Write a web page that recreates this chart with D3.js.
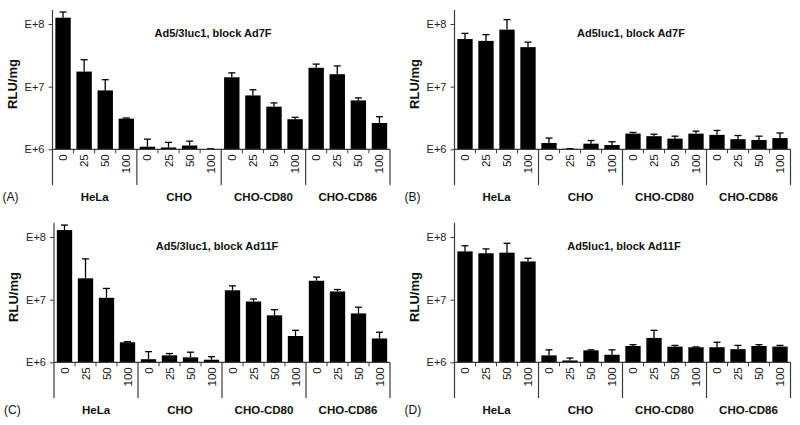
<!DOCTYPE html>
<html>
  <head>
      <meta charset="utf-8">
      <title>RLU/mg blocking</title>
      <script type="text/javascript" src="https://d3js.org/d3.v7.min.js"></script>
      <style>
        body { margin: 0; background: #fff; }
        text { font-family: "Liberation Sans", Arial, sans-serif; fill: #111; }
      </style>
  </head>
  <body>
<script type="text/javascript">
var w = 800;
var h = 425;

var cells = ["HeLa", "CHO", "CHO-CD80", "CHO-CD86"];
var doses = ["0", "25", "50", "100"];
var yTicks = [1e6, 1e7, 1e8];

// mean RLU/mg, 16 bars per panel (cells x doses)
var meanA = [1.26e8, 1.74e7, 8.71e6, 3.09e6,  1.10e6, 1.07e6, 1.15e6, 1.01e6,
             1.41e7, 7.24e6, 4.79e6, 3.02e6,  2.00e7, 1.58e7, 6.03e6, 2.63e6];
var sdA   = [2.9e7, 9.5e6, 4.2e6, 7e4,  3.5e5, 2.2e5, 2.0e5, 1e4,
             2.5e6, 1.67e6, 7.1e5, 2.2e5,  2.9e6, 5.6e6, 5.8e5, 6.8e5];

var meanB = [5.75e7, 5.37e7, 8.13e7, 4.27e7,  1.26e6, 1.02e6, 1.23e6, 1.17e6,
             1.78e6, 1.62e6, 1.48e6, 1.78e6,  1.70e6, 1.45e6, 1.41e6, 1.51e6];
var sdB   = [1.33e7, 1.39e7, 3.62e7, 8.6e6,  2.5e5, 5e3, 1.5e5, 1.5e5,
             8e4, 1.2e5, 1.4e5, 1.7e5,  3.0e5, 2.1e5, 2.1e5, 3.1e5];

var meanC = [1.29e8, 2.19e7, 1.07e7, 2.09e6,  1.12e6, 1.29e6, 1.20e6, 1.10e6,
             1.41e7, 9.33e6, 5.62e6, 2.63e6,  2.00e7, 1.35e7, 6.03e6, 2.40e6];
var sdC   = [2.6e7, 2.28e7, 4.4e6, 5e4,  3.6e5, 9e4, 2.5e5, 1.3e5,
             2.5e6, 9e5, 1.3e6, 6.1e5,  2.9e6, 1.0e6, 1.56e6, 6.2e5];

var meanD = [5.89e7, 5.50e7, 5.62e7, 4.07e7,  1.29e6, 1.07e6, 1.55e6, 1.32e6,
             1.82e6, 2.45e6, 1.78e6, 1.74e6,  1.74e6, 1.62e6, 1.82e6, 1.78e6];
var sdD   = [1.35e7, 9.6e6, 2.32e7, 5.0e6,  2.9e5, 1.0e5, 3e4, 2.6e5,
             9e4, 7.9e5, 8e4, 2e4,  3.5e5, 2.4e5, 9e4, 8e4];

var panels = [
  {letter: "(A)", title: "Ad5/3luc1, block Ad7F",  mean: meanA, sd: sdA, left: 52.5, right: 390,   top: 0,   titleX: 213},
  {letter: "(B)", title: "Ad5luc1, block Ad7F",    mean: meanB, sd: sdB, left: 454.5, right: 790.5, top: 0,   titleX: 631},
  {letter: "(C)", title: "Ad5/3luc1, block Ad11F", mean: meanC, sd: sdC, left: 54,   right: 390,   top: 213, titleX: 217},
  {letter: "(D)", title: "Ad5luc1, block Ad11F",   mean: meanD, sd: sdD, left: 454.5, right: 790.5, top: 213, titleX: 624}
];

var svg = d3.select("body")
            .append("svg")
            .attr("width", w)
            .attr("height", h);

var keys = [];
cells.forEach(function(c){ doses.forEach(function(d){ keys.push(c + "|" + d); }); });

var axisColor = "#3a3a3a";

panels.forEach(function(p){
  var g = svg.append("g").attr("transform", "translate(0," + p.top + ")");

  var x = d3.scaleBand()
            .domain(keys)
            .range([p.left, p.right])
            .paddingInner(0.27)
            .paddingOuter(0.135);

  var y = d3.scaleLog()
            .domain([1e6, Math.pow(10, 8.22)])
            .range([149.3, 10.2]);

  var base = y(1e6);
  var step = x.step();
  var slot0 = p.left;

  // bars
  g.selectAll("rect.bar")
   .data(p.mean)
   .enter()
   .append("rect")
   .attr("class", "bar")
   .attr("x", function(d, i){ return x(keys[i]); })
   .attr("width", x.bandwidth())
   .attr("y", function(d){ return y(d); })
   .attr("height", function(d){ return base - y(d); })
   .attr("fill", "#000");

  // error bars (upper only)
  var eb = g.selectAll("g.err")
            .data(p.mean)
            .enter()
            .append("g")
            .attr("class", "err")
            .attr("transform", function(d, i){ return "translate(" + (x(keys[i]) + x.bandwidth() / 2) + ",0)"; });
  eb.append("line")
    .attr("y1", function(d){ return y(d); })
    .attr("y2", function(d, i){ return y(d + p.sd[i]); })
    .attr("stroke", "#000")
    .attr("stroke-width", 1.3);
  eb.append("line")
    .attr("x1", -3.5).attr("x2", 3.5)
    .attr("y1", function(d, i){ return y(d + p.sd[i]); })
    .attr("y2", function(d, i){ return y(d + p.sd[i]); })
    .attr("stroke", "#000")
    .attr("stroke-width", 1.3);

  // y axis
  var yAxis = d3.axisLeft(y)
                .tickValues(yTicks)
                .tickSize(4)
                .tickPadding(4)
                .tickFormat(function(d){ return "E+" + Math.round(Math.log10(d)); });
  var ya = g.append("g")
            .attr("transform", "translate(" + p.left + ",0)")
            .call(yAxis);
  ya.select(".domain").remove();
  ya.selectAll("line").attr("stroke", axisColor);
  ya.selectAll("text")
    .style("font-size", "11px")
    .style("fill", "#222")
    .style("font-family", "Liberation Sans, Arial, sans-serif");

  // axis lines
  g.append("line")
   .attr("x1", p.left).attr("x2", p.left)
   .attr("y1", 10).attr("y2", 185)
   .attr("stroke", axisColor).attr("stroke-width", 1.2);
  g.append("line")
   .attr("x1", p.left).attr("x2", p.right)
   .attr("y1", base).attr("y2", base)
   .attr("stroke", axisColor).attr("stroke-width", 1.2);

  // slot ticks and group separators
  d3.range(1, keys.length + 1).forEach(function(i){
    var xx = slot0 + i * step;
    var isGroup = (i % doses.length === 0);
    g.append("line")
     .attr("x1", xx).attr("x2", xx)
     .attr("y1", base)
     .attr("y2", isGroup ? 185 : base + 4)
     .attr("stroke", axisColor).attr("stroke-width", isGroup ? 1.2 : 1);
  });

  // dose labels
  g.selectAll("text.dose")
   .data(keys)
   .enter()
   .append("text")
   .attr("class", "dose")
   .attr("transform", function(d){ return "translate(" + (x(d) + x.bandwidth() / 2) + "," + (base + 5) + ") rotate(-90)"; })
   .attr("dy", "0.35em")
   .attr("text-anchor", "end")
   .style("font-size", "11.5px")
   .text(function(d){ return d.split("|")[1]; });

  // group labels
  g.selectAll("text.cell")
   .data(cells)
   .enter()
   .append("text")
   .attr("class", "cell")
   .attr("x", function(d, i){ return slot0 + (i * doses.length + doses.length / 2) * step; })
   .attr("y", 201)
   .attr("text-anchor", "middle")
   .style("font-size", "11.5px")
   .style("font-weight", "bold")
   .text(function(d){ return d; });

  // y label
  g.append("text")
   .attr("transform", "translate(" + (p.left - 36) + ",84) rotate(-90)")
   .attr("text-anchor", "middle")
   .style("font-size", "13px")
   .style("font-weight", "bold")
   .text("RLU/mg");

  // title
  g.append("text")
   .attr("x", p.titleX)
   .attr("y", 37)
   .attr("text-anchor", "middle")
   .style("font-size", "11px")
   .style("font-weight", "bold")
   .text(p.title);

  // panel letter
  g.append("text")
   .attr("x", p.left - 50)
   .attr("y", 201)
   .style("font-size", "12px")
   .text(p.letter);
});
</script>
  </body>
</html>
